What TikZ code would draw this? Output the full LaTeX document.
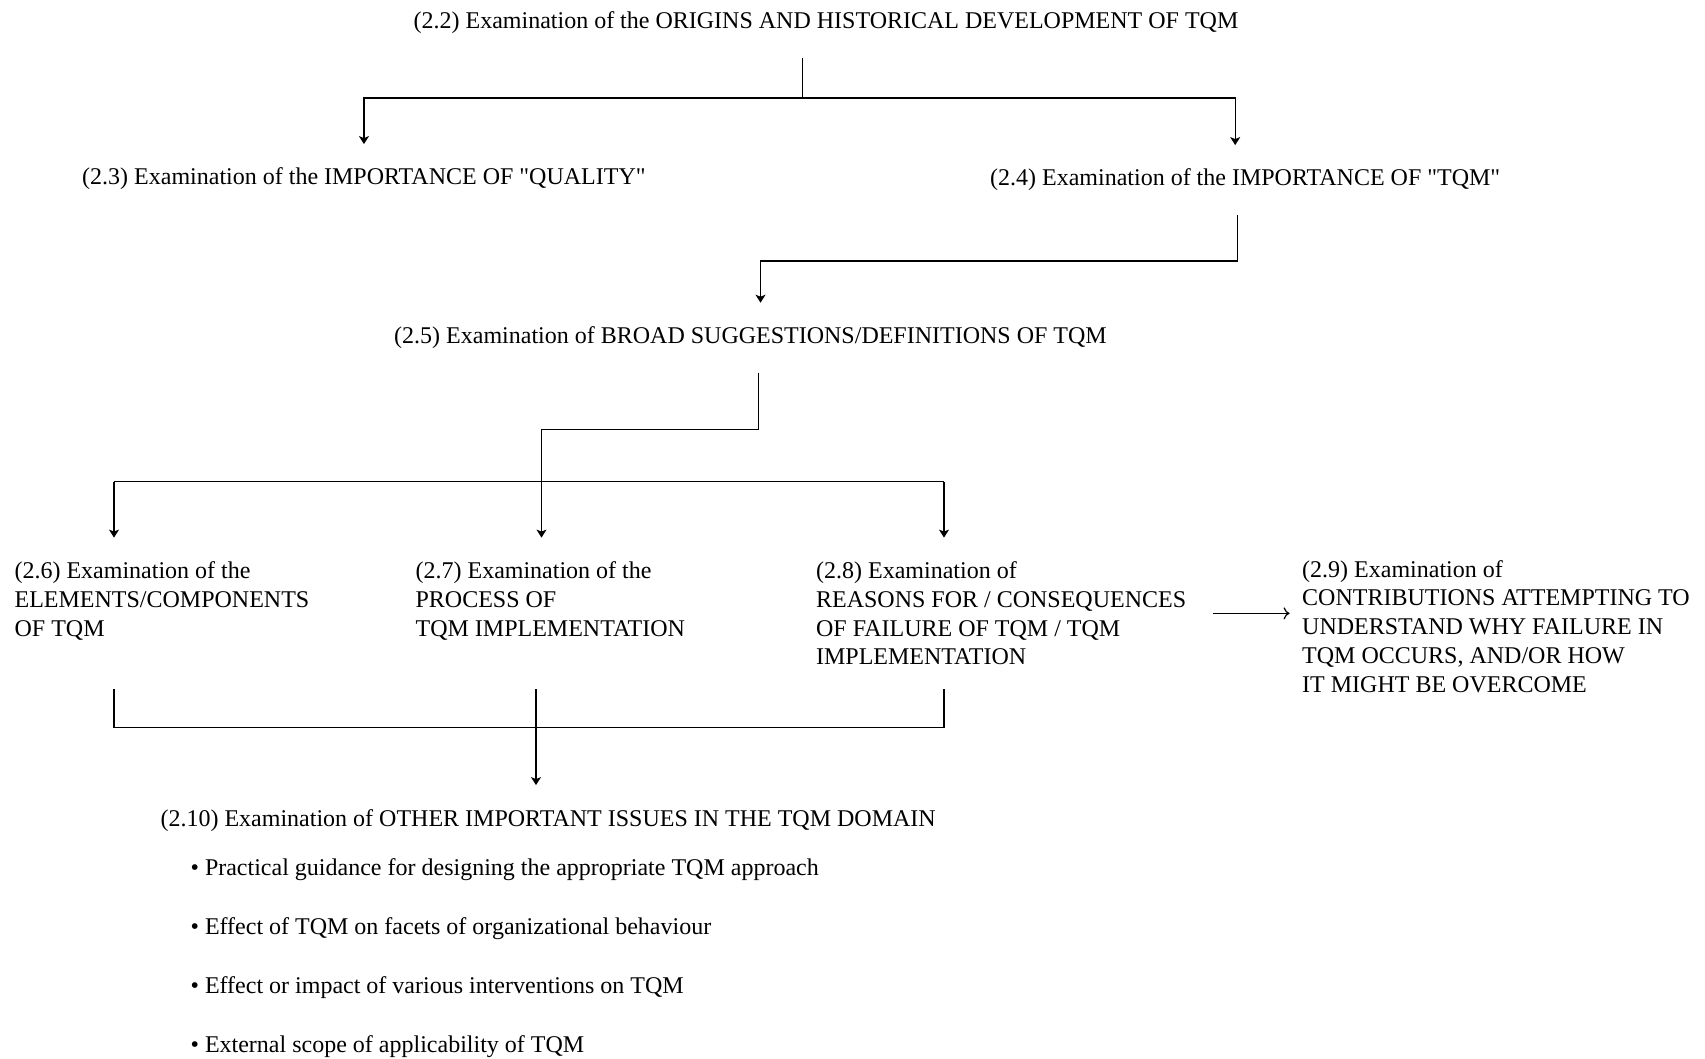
\documentclass[tikz,border=0pt]{standalone}
\usepackage{fontspec}
\setmainfont{Liberation Serif}
\usetikzlibrary{arrows.meta}

\begin{document}
\begin{tikzpicture}[
    x=0.5pt, y=-0.5pt,
    every node/.style={inner sep=0pt, outer ysep=12pt, anchor=base west, align=left,
      font=\fontsize{12}{14.4}\selectfont},
    arrow/.style={-{Stealth[length=4pt,width=5pt,inset=1pt]}},
    side arrow/.style={-{To[length=3pt,width=6pt]}, shorten <=13pt, shorten >=6pt},
    every path/.style={line width=0.6pt}
  ]
  \useasboundingbox (0,0) rectangle (1705,1059);

  % multi-line nodes sit on the baseline of their last line
  \node (n22) at (413,29) {(2.2) Examination of the ORIGINS AND HISTORICAL DEVELOPMENT OF TQM};
  \node (n23) at (81.6,185) {(2.3) Examination of the IMPORTANCE OF \textquotedbl QUALITY\textquotedbl};
  \node (n24) at (989.5,186) {(2.4) Examination of the IMPORTANCE OF \textquotedbl TQM\textquotedbl};
  \node (n25) at (393.6,343.6) {(2.5) Examination of BROAD SUGGESTIONS/DEFINITIONS OF TQM};
  \node (n26) at (14,636.1) {(2.6) Examination of the\\ELEMENTS/COMPONENTS\\OF TQM};
  \node (n27) at (415,636.1) {(2.7) Examination of the\\PROCESS OF\\TQM IMPLEMENTATION};
  \node (n28) at (815.5,664.9) {(2.8) Examination of\\REASONS FOR / CONSEQUENCES\\OF FAILURE OF TQM / TQM\\IMPLEMENTATION};
  \node (n29) at (1301.6,692.2) {(2.9) Examination of\\CONTRIBUTIONS ATTEMPTING TO\\UNDERSTAND WHY FAILURE IN\\TQM OCCURS, AND/OR HOW\\IT MIGHT BE OVERCOME};
  \node (n210) at (160,826) {(2.10) Examination of OTHER IMPORTANT ISSUES IN THE TQM DOMAIN};
  \foreach \txt [count=\i] in {Practical guidance for designing the appropriate TQM approach,
      Effect of TQM on facets of organizational behaviour,
      Effect or impact of various interventions on TQM,
      External scope of applicability of TQM}
    \node (b\i) at (190,{815.7+\i*59.3}) {\textbullet\ \txt};

  % bus lines
  \coordinate (bus1) at (802.5,98);
  \coordinate (bus2) at (1000,261);
  \coordinate (bus3) at (650,429.5);
  \coordinate (busL) at (114,481.7);
  \coordinate (busM) at (541.5,481.7);
  \coordinate (busR) at (944,481.7);
  \coordinate (botL) at (114,727.5);
  \coordinate (botM) at (536,727.5);
  \coordinate (botR) at (944,727.5);

  \draw (n22.south -| bus1) -- (bus1);
  \draw[arrow] (bus1) -| (n23.north);
  \draw[arrow] (bus1) -| ([xshift=-5pt]n24.north);
  \draw[arrow] ([xshift=-4pt]n24.south) |- (bus2) -| ([xshift=5pt]n25.north);
  \draw[arrow] ([xshift=4pt]n25.south) |- (bus3) -| (n27.north -| busM);
  \draw (busL) -- (busR);
  \draw[arrow] (busL) -- (n26.north -| busL);
  \draw[arrow] (busR) -- (n28.north -| busR);
  \draw (n28.south -| botR) -- (botR) -- (botL) -- (botL |- n28.south);
  \draw[arrow] (botM |- n28.south) -- (n210.north -| botM);
  \draw[side arrow] (n28.east) -- (n29.west |- n28.east);
\end{tikzpicture}
\end{document}
